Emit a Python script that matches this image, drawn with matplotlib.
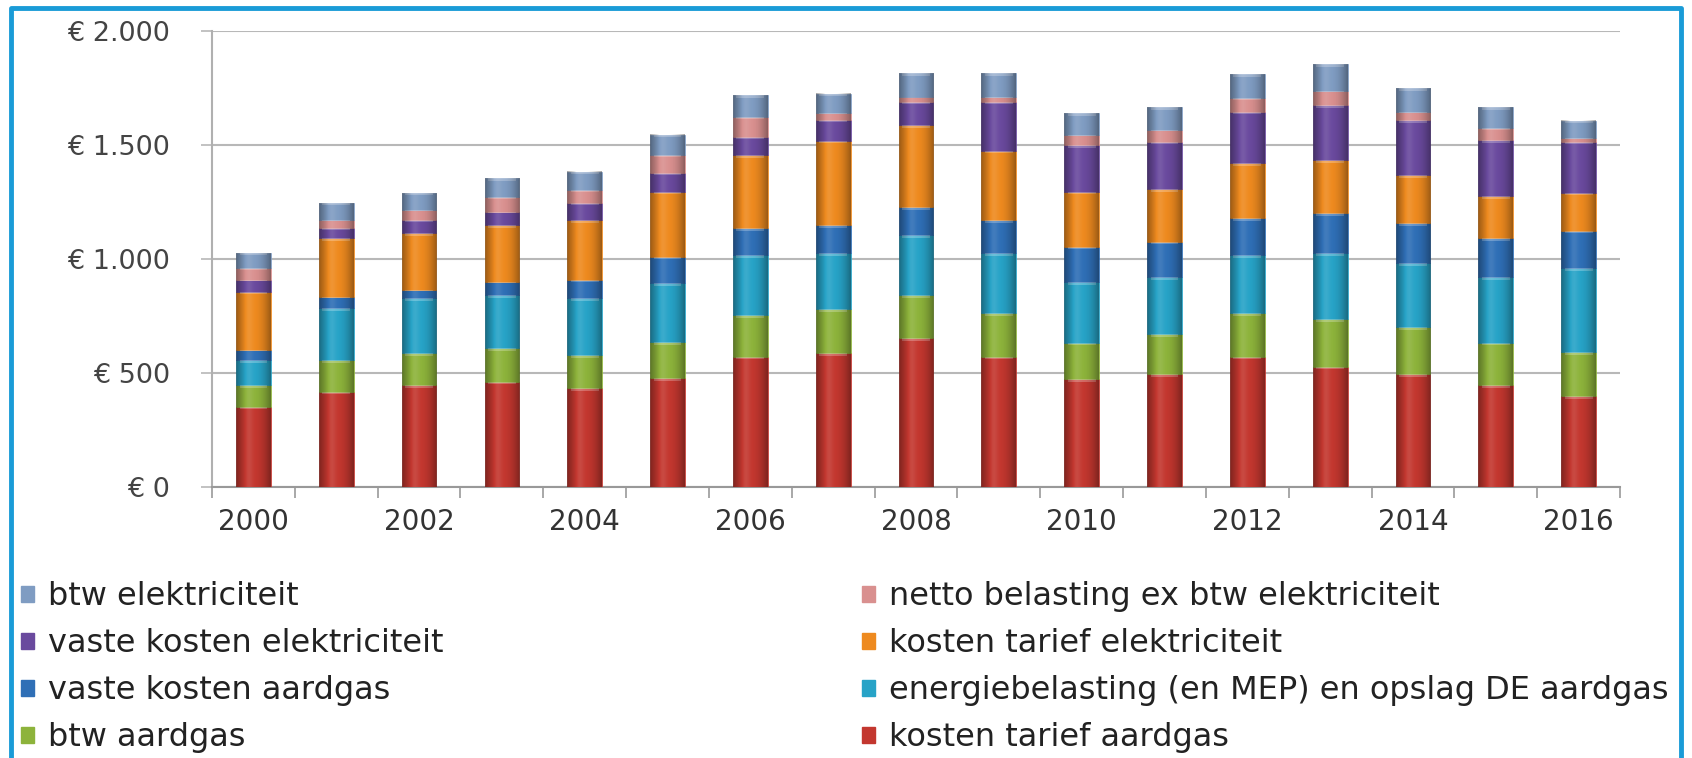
import matplotlib.pyplot as plt
import numpy as np
from matplotlib.patches import Patch
from matplotlib.lines import Line2D

# jaarlijkse energiekosten huishouden, opgebouwd per component (euro)
years = list(range(2000, 2017))
kosten_tarief_aardgas = [352, 418, 447, 462, 433, 477, 572, 586, 652, 572, 472, 496, 572, 528, 496, 447, 399]
btw_aardgas = [95, 139, 139, 146, 146, 160, 182, 193, 190, 190, 161, 175, 190, 207, 204, 186, 194]
energiebelasting_aardgas = [110, 227, 242, 234, 249, 256, 264, 246, 263, 263, 267, 251, 256, 290, 281, 287, 366]
vaste_kosten_aardgas = [44, 51, 36, 58, 80, 117, 117, 124, 124, 146, 154, 154, 160, 175, 176, 171, 165]
kosten_tarief_elek = [256, 256, 249, 249, 263, 285, 321, 370, 359, 304, 241, 230, 242, 234, 211, 185, 167]
vaste_kosten_elek = [51, 43, 58, 58, 73, 81, 80, 91, 102, 215, 205, 209, 226, 241, 242, 246, 224]
netto_belasting_elek = [51, 37, 44, 66, 59, 80, 88, 29, 22, 19, 44, 51, 59, 63, 36, 51, 14]
btw_elek = [66, 73, 73, 81, 80, 88, 95, 85, 102, 105, 95, 99, 106, 117, 102, 92, 78]

labels = ["kosten tarief aardgas", "btw aardgas",
          "energiebelasting (en MEP) en opslag DE aardgas", "vaste kosten aardgas",
          "kosten tarief elektriciteit", "vaste kosten elektriciteit",
          "netto belasting ex btw elektriciteit", "btw elektriciteit"]
series = [kosten_tarief_aardgas, btw_aardgas, energiebelasting_aardgas, vaste_kosten_aardgas,
          kosten_tarief_elek, vaste_kosten_elek, netto_belasting_elek, btw_elek]
colors = ["#c3372f", "#8db33b", "#27a3c7", "#2f6fb6",
          "#ee8a1f", "#6a4a9e", "#d9908f", "#7f9cc2"]

fig = plt.figure(figsize=(16.92, 7.58), dpi=100)
ax = fig.add_axes([0.1253, 0.3575, 0.8322, 0.6016])

x = np.arange(len(years))
w = 0.42
bottom = np.zeros(len(years))
handles = []
for vals, lab, col in zip(series, labels, colors):
    vals = np.array(vals, dtype=float)
    ax.bar(x, vals, w, bottom=bottom, color=col, edgecolor=col, linewidth=0.5, zorder=3)
    # lichte rand bovenaan elk segment
    cap = np.minimum(vals * 0.12, 12)
    ax.bar(x, cap, w * 0.8, bottom=bottom + vals - cap,
           color="white", alpha=0.25, linewidth=0, zorder=4)
    handles.append(Patch(facecolor=col, edgecolor=col, label=lab))
    bottom += vals

# cilinder-achtige schaduw over iedere staaf
prof = np.linspace(-1, 1, 60)
shade = 0.35 * np.abs(prof) ** 2 - 0.12 * np.exp(-((prof + 0.3) / 0.25) ** 2)
img = np.zeros((1, len(prof), 4))
img[0, :, :3] = (shade <= 0)[:, None] * 1.0
img[0, :, 3] = np.abs(shade)
for xi, tot in zip(x, bottom):
    ax.imshow(img, extent=(xi - w / 2, xi + w / 2, 0, tot), aspect="auto", zorder=5,
              interpolation="bilinear")

ax.set_xlim(-0.5, len(years) - 0.5)
ax.set_ylim(0, 2000)
ax.set_yticks([0, 500, 1000, 1500, 2000])
ax.set_yticklabels(["€ 0", "€ 500", "€ 1.000", "€ 1.500", "€ 2.000"])
ax.grid(axis="y", color="#b8b8b8", linewidth=1.5, zorder=0)
ax.set_xticks(x[::2])
ax.set_xticklabels([str(y) for y in years[::2]], fontsize=20, color="#333333")
ax.set_xticks(np.arange(-0.5, len(years), 1), minor=True)
ax.tick_params(axis="x", which="major", length=0, pad=15)
ax.tick_params(axis="x", which="minor", length=8, color="#999999", width=1.2)
ax.tick_params(axis="y", length=8, color="#b8b8b8", width=1.2, pad=22, labelsize=19.5,
               labelcolor="#444444")
for s in ["top", "right"]:
    ax.spines[s].set_visible(False)
ax.spines["left"].set_color("#b0b0b0")
ax.spines["bottom"].set_color("#999999")
ax.spines["left"].set_linewidth(1.5)
ax.spines["bottom"].set_linewidth(1.5)

# legenda in twee kolommen (omgekeerde stapelvolgorde)
rev = handles[::-1]
col1 = rev[0::2]
col2 = rev[1::2]
leg_kw = dict(frameon=False, fontsize=23, handlelength=0.4, handleheight=0.4,
              handletextpad=0.45, labelspacing=0.5, borderaxespad=0, borderpad=0,
              labelcolor="#222222")
leg1 = fig.legend(handles=col1, loc="upper left", bbox_to_anchor=(0.0124, 0.233), **leg_kw)
leg2 = fig.legend(handles=col2, loc="upper left", bbox_to_anchor=(0.5095, 0.233), **leg_kw)

# blauwe kader rondom
fig.add_artist(Line2D([0.0065, 0.0065, 0.9935, 0.9935], [-0.01, 0.9895, 0.9895, -0.01],
                      transform=fig.transFigure, color="#1a9bd7", linewidth=3.5, zorder=10))

fig.savefig("out.png", dpi=100)
